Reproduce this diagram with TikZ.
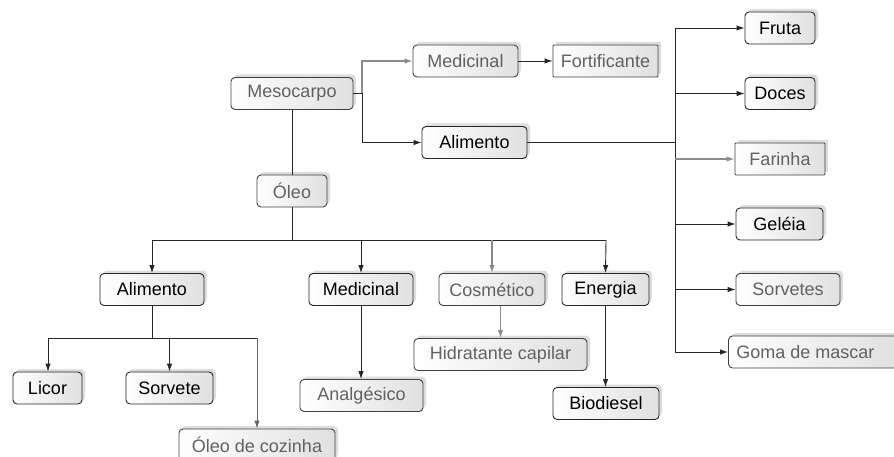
\documentclass[tikz,border=0pt]{standalone}
\usepackage{fontspec}
\setmainfont{Liberation Sans}
\usetikzlibrary{arrows.meta,shadows}
\tikzset{
  box/.style={draw=black!85, rounded corners=4pt, line width=0.9pt, minimum height=32pt,
     inner sep=0pt, font=\fontsize{18}{20}\selectfont, text=black,
     left color=white, right color=black!12,
     drop shadow={shadow xshift=3pt, shadow yshift=3pt, opacity=0.22, fill=black!60}},
  fade/.style={text=black!62, draw=black!75},
  con/.style={line width=0.9pt, draw=black!85},
  arr/.style={con, -{Latex[length=8pt,width=5.5pt]}},
  gcon/.style={draw=black!45, line width=1.3pt},
  garr/.style={gcon, -{Latex[length=8pt,width=5.5pt]}, draw=black!45}
}
\begin{document}
\begin{tikzpicture}[x=1pt,y=-1pt]
\useasboundingbox (0,0) rectangle (894,457);
\clip (0,0) rectangle (894,457);
% top part
\node[box,fade,minimum width=122pt] (meso) at (292,93.5) {Mesocarpo};
\node[box,fade,minimum width=105pt] (med1) at (465.5,61) {Medicinal};
\node[box,fade,minimum width=105pt,rounded corners=1pt] (fort) at (605.5,61) {Fortificante};
\node[box,minimum width=105pt] (ali1) at (474.5,142.5) {Alimento};
\node[box,fade,minimum width=70pt] (oleo) at (292,191) {Óleo};
% right column
\node[box,minimum width=70pt] (fruta) at (780,28) {Fruta};
\node[box,minimum width=70pt] (doces) at (780,93.5) {Doces};
\node[box,fade,minimum width=90pt,rounded corners=1pt] (farinha) at (780,159) {Farinha};
\node[box,minimum width=87pt] (geleia) at (779.5,224) {Geléia};
\node[box,fade,minimum width=104pt] (sorvetes) at (788,289.5) {Sorvetes};
\node[box,fade,minimum width=170pt,anchor=west] (goma) at (728,352) {\hspace*{2pt}Goma de mascar\hspace*{18pt}};
% lower part
\node[box,minimum width=104pt] (ali2) at (152,289.5) {Alimento};
\node[box,minimum width=104pt] (med2) at (361,289.5) {Medicinal};
\node[box,fade,minimum width=106pt] (cos) at (492,289.5) {Cosmético};
\node[box,minimum width=87pt] (ene) at (605.5,289.5) {Energia};
\node[box,minimum width=69pt] (licor) at (47.5,388) {Licor};
\node[box,minimum width=87pt] (sorvete) at (169.5,388) {Sorvete};
\node[box,fade,minimum width=156pt] (oleocoz) at (257,445) {Óleo de cozinha};
\node[box,fade,minimum width=123pt] (analg) at (361.5,395.5) {Analgésico};
\node[box,fade,minimum width=173pt] (hid) at (500.5,354.5) {Hidratante capilar};
\node[box,minimum width=106pt] (bio) at (606,403.5) {Biodiesel};
% coordinates
\coordinate (j1) at (362,93.5);
\coordinate (sp) at (675,142.5);
\coordinate (sptop) at (675,28);
\coordinate (spbot) at (675,352);
\coordinate (bus) at (292,240);
\coordinate (busL) at (152,240);
\coordinate (busR) at (606,240);
\coordinate (b2) at (152,338);
\coordinate (b2L) at (48,338);
\coordinate (b2R) at (257,338);
% Mesocarpo branches
\draw[con] (meso.east) -- (j1);
\draw[garr] (j1) |- (med1.west);
\draw[arr] (j1) |- (ali1.west);
\draw[arr] (med1.east) -- (fort.west);
% Alimento spine
\draw[con] (ali1.east) -- (sp);
\draw[con] (sptop) -- (spbot);
\draw[arr] (sptop) -- (fruta.west);
\draw[arr] (doces.west -| sp) -- (doces.west);
\draw[garr] (farinha.west -| sp) -- (farinha.west);
\draw[arr] (geleia.west -| sp) -- (geleia.west);
\draw[arr] (sorvetes.west -| sp) -- (sorvetes.west);
\draw[arr] (spbot) -- (goma.west);
% Oleo
\draw[con] (meso.south) -- (oleo.north);
\draw[con] (oleo.south) -- (bus);
\draw[con] (busL) -- (busR);
\draw[arr] (busL) -- (ali2.north);
\draw[arr] (med2.north |- bus) -- (med2.north);
\draw[garr] (cos.north |- bus) -- (cos.north);
\draw[arr] (busR) -- (ene.north);
% Alimento lower
\draw[con] (ali2.south) -- (b2);
\draw[con] (b2L) -- (b2R);
\draw[arr] (b2L) -- (licor.north -| b2L);
\draw[arr] (sorvete.north |- b2) -- (sorvete.north);
\draw[garr, line width=1pt, draw=black!60] (b2R) -- (oleocoz.north);
% others
\draw[arr] (med2.south) -- (analg.north -| med2.south);
\draw[garr] (hid.north |- cos.south) -- (hid.north);
\draw[arr] (ene.south) -- (bio.north -| ene.south);
\end{tikzpicture}
\end{document}
